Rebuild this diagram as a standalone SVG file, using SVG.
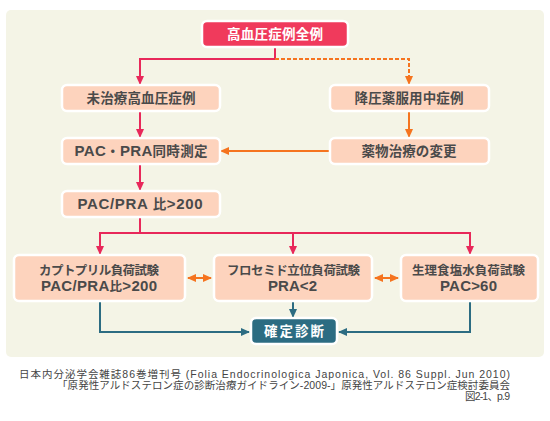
<svg xmlns="http://www.w3.org/2000/svg" width="550" height="421" viewBox="0 0 550 421">
<defs>
<style>
.bg{fill:#f4f4e6}
.box{fill:#fdd3bd;stroke:#ffffff;stroke-width:2.5}
.red{fill:#f03a5c;stroke:#ffffff;stroke-width:2.5}
.teal{fill:#2c6c82;stroke:#ffffff;stroke-width:2.5}
.t{font-family:"Liberation Sans","Noto Sans CJK JP",sans-serif;font-weight:bold;font-size:13.5px;fill:#4a4a4a;text-anchor:middle}
.ts{font-size:12.5px}
.L{font-size:15px}
.tw{fill:#ffffff}
.lr{fill:none;stroke:#e8285a;stroke-width:2}
.lo{fill:none;stroke:#f5741f;stroke-width:2}
.lod{fill:none;stroke:#f5741f;stroke-width:2;stroke-dasharray:4 2}
.lt{fill:none;stroke:#2c6c82;stroke-width:2}
.cite{font-family:"Liberation Sans","Noto Sans CJK JP",sans-serif;font-size:10.5px;fill:#444444;text-anchor:end}
</style>
<marker id="ar" markerWidth="9" markerHeight="8" refX="8" refY="4" orient="auto" markerUnits="userSpaceOnUse"><path d="M0,0 L9,4 L0,8 Z" fill="#e8285a"/></marker>
<marker id="ao" markerWidth="9" markerHeight="8" refX="8" refY="4" orient="auto" markerUnits="userSpaceOnUse"><path d="M0,0 L9,4 L0,8 Z" fill="#f5741f"/></marker>
<marker id="aos" markerWidth="9" markerHeight="8" refX="1" refY="4" orient="auto" markerUnits="userSpaceOnUse"><path d="M9,0 L0,4 L9,8 Z" fill="#f5741f"/></marker>
<marker id="at" markerWidth="9" markerHeight="8" refX="8" refY="4" orient="auto" markerUnits="userSpaceOnUse"><path d="M0,0 L9,4 L0,8 Z" fill="#2c6c82"/></marker>
</defs>
<rect width="550" height="421" fill="#ffffff"/>
<rect class="bg" x="6" y="10" width="538" height="347" rx="5"/>

<g id="connectors">
<path class="lr" d="M275,47 V59 H140 V84" marker-end="url(#ar)"/>
<path class="lod" d="M275,59 H409 V84" marker-end="url(#ao)"/>
<path class="lr" d="M140,111 V137" marker-end="url(#ar)"/>
<path class="lo" d="M409,111 V137" marker-end="url(#ao)"/>
<path class="lo" d="M329,151 H221" marker-end="url(#ao)"/>
<path class="lr" d="M140,164 V190" marker-end="url(#ar)"/>
<path class="lr" d="M140,217 V233"/>
<path class="lr" d="M100,254 V233 H470 V254" marker-end="url(#ar)"/>
<path class="lr" d="M100,233 V254" marker-end="url(#ar)"/>
<path class="lr" d="M293,233 V254" marker-end="url(#ar)"/>
<path class="lo" d="M188,278 H211" marker-start="url(#aos)" marker-end="url(#ao)"/>
<path class="lo" d="M375,278 H398" marker-start="url(#aos)" marker-end="url(#ao)"/>
<path class="lt" d="M100,302 V332 H249" marker-end="url(#at)"/>
<path class="lt" d="M293,302 V317" marker-end="url(#at)"/>
<path class="lt" d="M470,302 V332 H339" marker-end="url(#at)"/>
</g>

<g id="n-all">
<rect class="red" x="202" y="21" width="146" height="26" rx="5"/>
<text class="t tw" x="275" y="39" textLength="96">高血圧症例全例</text>
</g>
<g id="n-untreated">
<rect class="box" x="62" y="85" width="158" height="26" rx="5"/>
<text class="t" x="141" y="103" textLength="109">未治療高血圧症例</text>
</g>
<g id="n-medicated">
<rect class="box" x="330" y="85" width="159" height="26" rx="5"/>
<text class="t" x="409" y="103" textLength="109">降圧薬服用中症例</text>
</g>
<g id="n-measure">
<rect class="box" x="62" y="138" width="158" height="26" rx="5"/>
<text class="t" x="141" y="156" textLength="133"><tspan class="L">PAC</tspan>・<tspan class="L">PRA</tspan>同時測定</text>
</g>
<g id="n-change">
<rect class="box" x="330" y="138" width="159" height="26" rx="5"/>
<text class="t" x="409" y="156" textLength="95">薬物治療の変更</text>
</g>
<g id="n-ratio">
<rect class="box" x="62" y="191" width="158" height="26" rx="5"/>
<text class="t" x="140" y="209" textLength="125"><tspan class="L">PAC/PRA </tspan>比<tspan class="L">&gt;200</tspan></text>
</g>
<g id="n-captopril">
<rect class="box" x="14" y="255" width="171" height="46" rx="5"/>
<text class="t ts" x="99" y="275" textLength="120">カプトプリル負荷試験</text>
<text class="t ts" x="99" y="291" textLength="116"><tspan class="L">PAC/PRA</tspan>比<tspan class="L">&gt;200</tspan></text>
</g>
<g id="n-furosemide">
<rect class="box" x="214" y="255" width="158" height="46" rx="5"/>
<text class="t ts" x="293.5" y="275" textLength="133">フロセミド立位負荷試験</text>
<text class="t ts L" x="292.5" y="291" textLength="49">PRA&lt;2</text>
</g>
<g id="n-saline">
<rect class="box" x="401" y="255" width="137" height="46" rx="5"/>
<text class="t ts" x="468.5" y="275" textLength="113">生理食塩水負荷試験</text>
<text class="t ts L" x="468.5" y="291" textLength="57">PAC&gt;60</text>
</g>
<g id="n-diagnosis">
<rect class="teal" x="251" y="318" width="86" height="26" rx="5"/>
<text class="t tw" x="294" y="336" textLength="60">確定診断</text>
</g>

<g id="citation">
<text class="cite" x="510" y="377.5" textLength="491">日本内分泌学会雑誌86巻増刊号 (Folia Endocrinologica Japonica, Vol. 86 Suppl. Jun 2010)</text>
<text class="cite" x="510" y="388.5" textLength="453">「原発性アルドステロン症の診断治療ガイドライン-2009-」原発性アルドステロン症検討委員会</text>
<text class="cite" x="510" y="399.5" textLength="45">図2-1、p.9</text>
</g>
</svg>
